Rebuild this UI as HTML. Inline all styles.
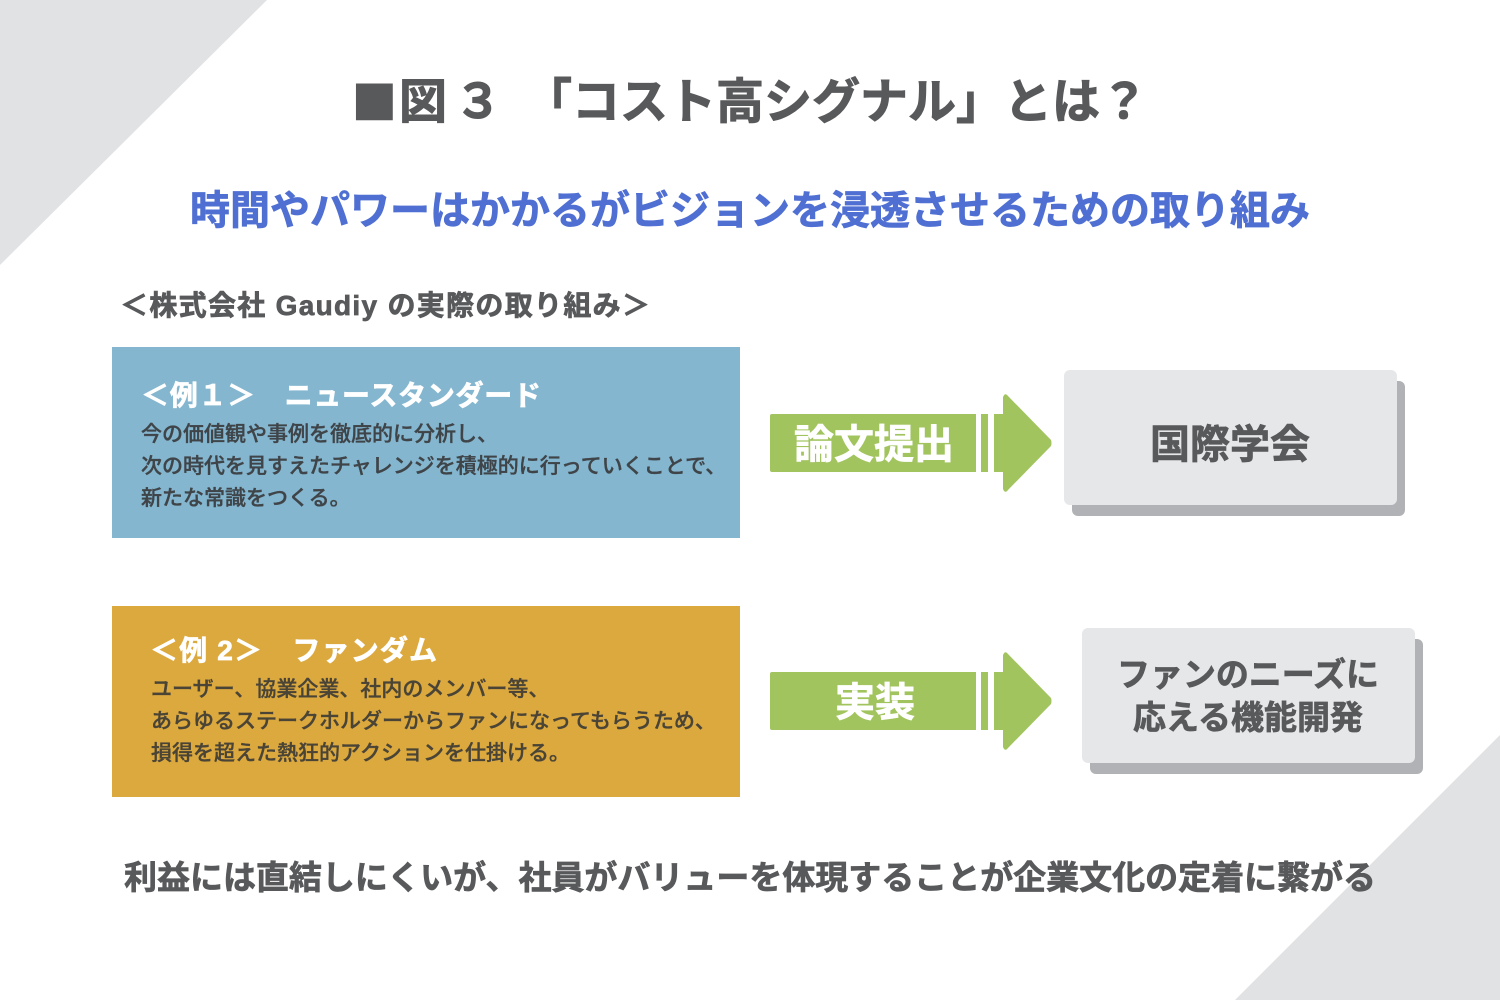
<!DOCTYPE html>
<html><head><meta charset="utf-8"><style>
html,body{margin:0;padding:0;background:#fff}
svg{display:block}
text{font-family:"Liberation Sans","Noto Sans CJK JP",sans-serif;font-weight:700;fill:#58595b;stroke:#58595b;stroke-width:.7px;paint-order:stroke}
.w{fill:#fff;stroke:#fff}
.b1{font-weight:500;fill:#3f4448;stroke:#3f4448;stroke-width:.35px}
.b2{font-weight:500;fill:#4a4436;stroke:#4a4436;stroke-width:.35px}
.t{stroke-width:1px}
</style></head><body>
<svg width="1500" height="1000" viewBox="0 0 1500 1000" xmlns="http://www.w3.org/2000/svg">
<rect width="1500" height="1000" fill="#fff"/>
<polygon points="0,0 267,0 0,265" fill="#e1e2e4"/>
<polygon points="1500,735 1500,1000 1235,1000" fill="#e1e2e4"/>
<text class="t" x="352" y="124" font-size="74">■</text>
<text class="t" x="399" y="118" font-size="48">図</text>
<text class="t" x="454" y="118" font-size="48">３</text>
<text class="t" x="524" y="118" font-size="48" textLength="624" lengthAdjust="spacing">「コスト高シグナル」とは？</text>
<text x="190" y="224" font-size="40" textLength="1120" style="fill:#4f6fd3;stroke:#4f6fd3">時間やパワーはかかるがビジョンを浸透させるための取り組み</text>
<text x="120" y="315" font-size="28" textLength="530">＜株式会社 Gaudiy の実際の取り組み＞</text>
<rect x="112" y="347" width="628" height="191" fill="#84b6cf"/>
<text class="w" x="141" y="405" font-size="28" textLength="400">＜例１＞　ニュースタンダード</text>
<text class="b1" x="141" y="441" font-size="21">今の価値観や事例を徹底的に分析し、</text>
<text class="b1" x="141" y="473" font-size="21">次の時代を見すえたチャレンジを積極的に行っていくことで、</text>
<text class="b1" x="141" y="505" font-size="21">新たな常識をつくる。</text>
<rect x="112" y="606" width="628" height="191" fill="#dca93f"/>
<text class="w" x="150" y="660" font-size="28" textLength="287">＜例 2＞　ファンダム</text>
<text class="b2" x="151" y="696" font-size="21">ユーザー、協業企業、社内のメンバー等、</text>
<text class="b2" x="151" y="728" font-size="21">あらゆるステークホルダーからファンになってもらうため、</text>
<text class="b2" x="151" y="760" font-size="21">損得を超えた熱狂的アクションを仕掛ける。</text>
<g fill="#a2c45e">
<path d="M772 414H976V472H772a2 2 0 0 1-2-2V416a2 2 0 0 1 2-2Z"/>
<rect x="981" y="414" width="7" height="58"/>
<path d="M994 414H1003V397Q1005 392 1008 396L1051 440Q1052 443 1051 446L1008 490Q1005 494 1003 489V472H994Z"/>
<path d="M772 672H976V730H772a2 2 0 0 1-2-2V674a2 2 0 0 1 2-2Z"/>
<rect x="981" y="672" width="7" height="58"/>
<path d="M994 672H1003V655Q1005 650 1008 654L1051 698Q1052 701 1051 704L1008 748Q1005 752 1003 747V730H994Z"/>
</g>
<text class="w" x="794" y="458" font-size="40">論文提出</text>
<text class="w" x="835" y="716" font-size="40">実装</text>
<rect x="1072" y="381" width="333" height="135" rx="6" fill="#b0b2b5"/>
<rect x="1064" y="370" width="333" height="135" rx="6" fill="#e6e7e9"/>
<text x="1150" y="458" font-size="40">国際学会</text>
<rect x="1090" y="639" width="333" height="135" rx="6" fill="#b0b2b5"/>
<rect x="1082" y="628" width="333" height="135" rx="6" fill="#e6e7e9"/>
<text x="1117" y="686" font-size="33" textLength="262">ファンのニーズに</text>
<text x="1133" y="729" font-size="33">応える機能開発</text>
<text x="124" y="889" font-size="33" textLength="1252">利益には直結しにくいが、社員がバリューを体現することが企業文化の定着に繋がる</text>
</svg>
</body></html>
